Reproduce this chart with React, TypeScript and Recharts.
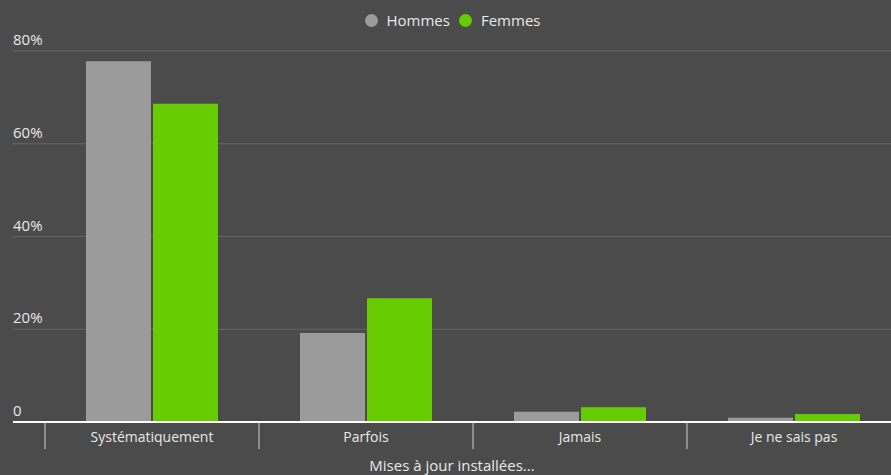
import React from 'react';
import { BarChart, Bar, XAxis, YAxis, CartesianGrid, Legend } from 'recharts';

const categories = ['Systématiquement', 'Parfois', 'Jamais', 'Je ne sais pas'];
const hommes = [77.8, 19.2, 2.2, 0.9];
const femmes = [68.6, 26.7, 3.2, 1.7];
const seriesNames = ['Hommes', 'Femmes'];
const yTicks = [0, 20, 40, 60, 80];
const yTickLabels: Record<number, string> = { 0: '0', 20: '20%', 40: '40%', 60: '60%', 80: '80%' };
const axisTitle = 'Mises à jour installées...';

const data = categories.map((c, i) => ({ name: c, Hommes: hommes[i], Femmes: femmes[i] }));

const FONT = '"Open Sans", sans-serif';
const TEXT = '#e8e8e8';
const BG = '#4b4b4b';
const GRAY = '#9b9b9b';
const GREEN = '#66cc00';

const LegendContent = (props: any) => {
  const { payload = [] } = props;
  const items = [...payload].sort(
    (a: any, b: any) => seriesNames.indexOf(a.value) - seriesNames.indexOf(b.value)
  );
  return (
    <div style={{ height: 46, boxSizing: 'border-box', paddingTop: 5, paddingRight: 8, display: 'flex', justifyContent: 'center', alignItems: 'flex-start' }}>
      {items.map((p: any, i: number) => (
        <div key={i} style={{ display: 'flex', alignItems: 'center', height: 20, marginLeft: i === 0 ? 0 : 9 }}>
          <span style={{ width: 13, height: 13, borderRadius: '50%', background: p.color, display: 'inline-block', marginRight: 9 }} />
          <span style={{ color: TEXT, fontFamily: FONT, fontSize: 15, lineHeight: '20px' }}>{p.value}</span>
        </div>
      ))}
    </div>
  );
};

const XTick = (props: any) => {
  const { x, y, payload } = props;
  const half = payload && payload.offset ? payload.offset : 107;
  return (
    <g>
      <line x1={x - half} x2={x - half} y1={y} y2={y + 27} stroke="#d0d0d0" strokeWidth={1} />
      <text x={x} y={y + 20} textAnchor="middle" fill={TEXT} fontFamily={FONT} fontSize={14}>
        {payload.value}
      </text>
    </g>
  );
};

const YTick = (props: any) => {
  const { x, y, payload } = props;
  return (
    <text x={x} y={y - 6} textAnchor="start" fill={TEXT} fontFamily={FONT} fontSize={15}>
      {yTickLabels[payload.value] ?? String(payload.value)}
    </text>
  );
};

export default function App() {
  return (
    <div style={{ position: 'absolute', left: 0, top: 0, width: 891, height: 475, overflow: 'hidden', background: BG }}>
      <BarChart
        width={901}
        height={475}
        data={data}
        margin={{ top: 5, right: 0, left: 12, bottom: 0 }}
        barCategoryGap={41}
        barGap={2}
      >
        <CartesianGrid vertical={false} stroke="#666666" strokeWidth={1} />
        <Legend verticalAlign="top" align="center" content={<LegendContent />} />
        <YAxis
          width={1}
          domain={[0, 80]}
          ticks={yTicks}
          axisLine={false}
          tickLine={false}
          tickSize={0}
          tickMargin={0}
          tick={<YTick />}
          interval={0}
        />
        <XAxis
          dataKey="name"
          height={53}
          padding={{ left: 32, right: 0 }}
          axisLine={{ stroke: '#ffffff', strokeWidth: 2 }}
          tickLine={false}
          tickSize={0}
          tickMargin={0}
          tick={<XTick />}
          interval={0}
          label={{ value: axisTitle, position: 'insideBottom', offset: 4, fill: TEXT, fontFamily: FONT, fontSize: 15, dx: -5 }}
        />
        <Bar dataKey="Hommes" fill={GRAY} isAnimationActive={false} />
        <Bar dataKey="Femmes" fill={GREEN} isAnimationActive={false} />
      </BarChart>
    </div>
  );
}
